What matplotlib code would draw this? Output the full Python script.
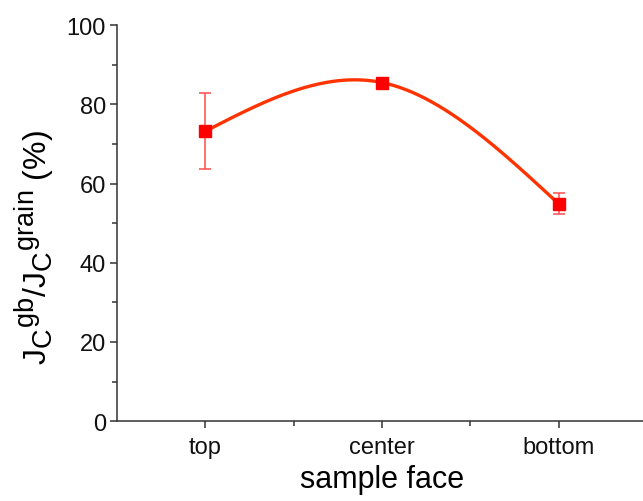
import numpy as np
import matplotlib
matplotlib.use('Agg')
import matplotlib.pyplot as plt
import matplotlib._mathtext as mt

# data
faces = ['top', 'center', 'bottom']
ratio = [73.2, 85.5, 54.9]       # Jc gb / Jc grain (%)
err = [9.6, 0.8, 2.7]

plt.rcParams['font.family'] = ['Liberation Sans', 'DejaVu Sans']
plt.rcParams['mathtext.fontset'] = 'custom'
plt.rcParams['mathtext.rm'] = 'Liberation Sans'
mt.SHRINK_FACTOR = 0.85   # Origin-like bigger sub/superscripts


def natural_spline(x, y, xs):
    # natural cubic spline, like Origin's "spline" connector
    x = np.asarray(x, float)
    y = np.asarray(y, float)
    n = len(x)
    h = np.diff(x)
    A = np.zeros((n, n))
    b = np.zeros(n)
    A[0, 0] = 1
    A[-1, -1] = 1
    for i in range(1, n - 1):
        A[i, i - 1] = h[i - 1]
        A[i, i] = 2 * (h[i - 1] + h[i])
        A[i, i + 1] = h[i]
        b[i] = 6 * ((y[i + 1] - y[i]) / h[i] - (y[i] - y[i - 1]) / h[i - 1])
    M = np.linalg.solve(A, b)
    out = np.zeros_like(xs)
    for k, xv in enumerate(xs):
        i = min(np.searchsorted(x, xv, side='right') - 1, n - 2)
        i = max(i, 0)
        t1 = x[i + 1] - xv
        t0 = xv - x[i]
        out[k] = (M[i] * t1**3 + M[i + 1] * t0**3) / (6 * h[i]) \
            + (y[i] / h[i] - M[i] * h[i] / 6) * t1 \
            + (y[i + 1] / h[i] - M[i + 1] * h[i] / 6) * t0
    return out


x = np.arange(1, len(faces) + 1)
xs = np.linspace(1, 3, 300)
ys = natural_spline(x, ratio, xs)

fig = plt.figure(figsize=(6.43, 5.02), dpi=100)
ax = fig.add_axes([0.182, 0.159, 0.824, 0.789])

ax.plot(xs, ys, '-', color='#ff3300', lw=2.4, zorder=2)
ax.errorbar(x, ratio, yerr=err, fmt='none', ecolor='#ff4d4d', elinewidth=1.1,
            capsize=4.5, capthick=1.1, zorder=3)
ax.plot(x, ratio, 's', color='#ff0000', ms=8.5, zorder=4)

ax.set_xlim(0.5, 3.5)
ax.set_ylim(0, 100)
ax.set_xticks(x)
ax.set_xticklabels(faces)
ax.set_xticks([1.5, 2.5], minor=True)
ax.set_yticks(np.arange(0, 101, 20))
ax.set_yticks(np.arange(10, 100, 20), minor=True)

for s in ['top', 'right']:
    ax.spines[s].set_visible(False)
for s in ['left', 'bottom']:
    ax.spines[s].set_linewidth(1.1)
    ax.spines[s].set_color('#333333')

ax.tick_params(which='major', length=5, width=1.1, color='#333333',
               labelsize=15.5, pad=3)
ax.tick_params(which='minor', length=3.5, width=1.1, color='#333333')
ax.tick_params(axis='x', which='major', pad=6)
for lab in ax.get_xticklabels() + ax.get_yticklabels():
    lab.set_family(['Liberation Sans Narrow', 'Liberation Sans'])
    lab.set_fontsize(17)
    lab.set_color('#111111')

ax.set_xlabel('sample face', fontsize=22, labelpad=4)
ax.set_ylabel(r'J$_\mathrm{C}$$^\mathrm{gb}$/J$_\mathrm{C}$$^\mathrm{grain}$ (%)',
              fontsize=23)
ax.yaxis.set_label_coords(-0.113, 0.44)

plt.savefig('out.png', dpi=100)
